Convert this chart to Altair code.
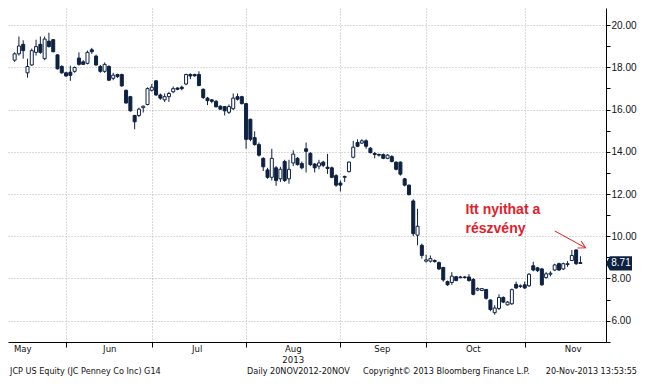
import altair as alt
import pandas as pd

# ---- data (JCP daily candles, 15 May - 20 Nov 2013) ----
opens = [18.34, 18.64, 19.09, 17.74, 18.11, 18.71, 19.09, 18.41, 19.24, 19.31,
         18.59, 18.04, 17.74, 17.77, 17.81, 18.44, 18.26, 18.19, 18.83, 18.53,
         18.04, 17.81, 18.04, 17.48, 17.66, 17.66, 16.91, 16.61, 15.72, 15.72,
         16.09, 16.24, 16.91, 17.36, 16.69, 16.46, 16.61, 16.84, 17.02, 17.06,
         17.21, 17.66, 17.66, 17.66, 16.96, 16.54, 16.46, 16.39, 16.16, 16.14,
         15.87, 16.04, 16.61, 16.61, 16.28, 15.54, 14.67, 14.34, 13.69, 13.14,
         12.79, 13.24, 12.72, 13.54, 12.72, 13.47, 13.69, 13.44, 14.14, 13.92,
         13.42, 13.32, 13.51, 13.27, 13.24, 12.87, 12.52, 12.79, 13.06, 13.74,
         14.44, 14.41, 14.52, 14.17, 13.92, 13.87, 13.87, 13.69, 13.77, 13.51,
         13.51, 12.72, 12.42, 11.67, 10.05, 9.57, 8.82, 8.82, 8.85, 8.75,
         8.52, 7.85, 7.81, 8.08, 8.04, 8.07, 8.07, 7.95, 7.45, 7.43,
         7.48, 6.98, 6.38, 6.58, 7.10, 6.75, 6.80, 7.72, 7.62, 7.70,
         7.65, 8.60, 8.50, 8.45, 8.04, 8.20, 8.40, 8.70, 8.45, 8.66,
         8.85, 9.35, 8.75]
highs = [18.71, 19.46, 19.28, 18.41, 18.89, 19.31, 19.46, 19.46, 19.64, 19.34,
         18.62, 18.10, 17.79, 18.08, 18.04, 18.71, 18.34, 18.79, 18.92, 18.60,
         18.11, 18.23, 18.10, 17.74, 17.70, 17.70, 16.95, 16.65, 15.75, 16.09,
         16.19, 17.05, 17.21, 17.40, 16.76, 16.76, 16.84, 17.09, 17.05, 17.13,
         17.70, 17.72, 17.70, 17.81, 17.00, 16.60, 16.50, 16.45, 16.20, 16.17,
         16.24, 16.76, 16.76, 16.65, 16.30, 15.57, 14.97, 14.44, 13.74, 13.24,
         14.14, 13.32, 13.29, 13.62, 13.62, 14.07, 13.75, 13.54, 14.44, 13.99,
         13.47, 13.62, 13.57, 13.90, 13.30, 12.94, 12.64, 12.87, 13.54, 14.52,
         14.59, 14.59, 14.59, 14.22, 13.99, 13.92, 13.92, 13.88, 13.84, 13.54,
         13.54, 12.76, 12.45, 11.75, 11.30, 9.65, 9.12, 9.09, 8.90, 8.80,
         8.55, 7.90, 8.30, 8.12, 8.12, 8.12, 8.20, 8.02, 7.58, 7.55,
         7.50, 7.00, 6.73, 7.25, 7.15, 6.93, 7.52, 7.85, 7.72, 7.85,
         8.25, 8.79, 8.55, 8.50, 8.30, 8.34, 8.70, 8.75, 8.75, 8.82,
         9.35, 9.37, 9.05]
lows = [18.26, 18.56, 18.41, 17.51, 18.07, 18.56, 18.64, 18.34, 18.94, 18.71,
        17.90, 17.70, 17.55, 17.36, 17.74, 18.08, 18.11, 18.14, 18.64, 18.08,
        17.74, 17.74, 17.36, 17.39, 17.50, 17.08, 16.28, 15.90, 15.07, 15.64,
        15.86, 16.20, 16.85, 16.65, 16.46, 16.36, 16.36, 16.78, 16.92, 16.91,
        17.15, 17.44, 17.55, 17.10, 16.50, 16.21, 16.30, 16.10, 15.98, 15.72,
        15.79, 15.98, 16.43, 16.24, 14.14, 14.50, 14.29, 13.77, 13.09, 12.72,
        12.64, 12.39, 12.57, 12.57, 12.49, 13.32, 13.35, 13.17, 13.02, 13.32,
        13.02, 13.17, 13.27, 12.95, 12.75, 12.34, 12.12, 12.57, 13.02, 13.69,
        14.22, 14.37, 14.14, 13.92, 13.69, 13.77, 13.65, 13.65, 13.50, 13.12,
        12.87, 12.36, 11.93, 10.00, 9.57, 8.94, 8.75, 8.75, 8.75, 8.40,
        7.85, 7.65, 7.70, 7.87, 8.00, 8.00, 7.85, 7.20, 7.40, 7.40,
        7.00, 6.45, 6.28, 6.50, 6.83, 6.72, 6.75, 7.50, 7.55, 7.50,
        7.60, 8.34, 8.30, 7.65, 8.00, 8.10, 8.35, 8.35, 8.40, 8.55,
        8.82, 8.64, 8.70]
closes = [18.64, 19.01, 18.79, 18.04, 18.79, 18.98, 18.71, 19.34, 18.98, 18.74,
          17.93, 17.74, 17.59, 17.62, 17.99, 18.14, 18.14, 18.71, 18.74, 18.11,
          17.81, 18.14, 17.39, 17.63, 17.56, 17.12, 16.31, 15.94, 15.42, 16.02,
          16.16, 16.99, 17.06, 16.69, 16.54, 16.61, 16.76, 16.99, 16.96, 16.99,
          17.66, 17.59, 17.60, 17.14, 16.57, 16.42, 16.39, 16.13, 16.02, 15.94,
          16.14, 16.54, 16.49, 16.28, 14.59, 14.59, 14.34, 13.84, 13.29, 12.79,
          13.69, 12.64, 13.17, 12.64, 13.17, 13.89, 13.39, 13.24, 14.02, 13.39,
          13.24, 13.47, 13.36, 13.21, 12.79, 12.42, 12.42, 12.83, 13.51, 14.22,
          14.26, 14.52, 14.26, 13.96, 13.87, 13.84, 13.69, 13.84, 13.54, 13.17,
          12.94, 12.42, 11.97, 10.12, 10.47, 9.09, 8.88, 8.94, 8.80, 8.45,
          7.93, 7.70, 8.11, 7.90, 8.07, 8.04, 7.90, 7.25, 7.52, 7.52,
          7.06, 6.53, 6.60, 7.10, 6.88, 6.88, 7.47, 7.55, 7.65, 7.55,
          8.20, 8.40, 8.37, 7.70, 8.22, 8.25, 8.64, 8.40, 8.70, 8.70,
          9.09, 8.70, 8.71]

# trading-day index of the first session of each month (Jun..Nov)
month_start_idx = [12, 32, 54, 76, 96, 119]
month_names = ["May", "Jun", "Jul", "Aug", "Sep", "Oct", "Nov"]
month_label_idx = [1.9, 22.2, 42.6, 65.0, 85.8, 107.0, 130.3]
y_ticks = list(range(5, 21))
last_price = 8.71

note_lines = ["Itt nyithat a", "részvény"]
note_idx = [105.2, 105.2]
note_price = [11.07, 10.17]
arrow_from = (126.0, 10.25)
arrow_to = (133.2, 9.45)

footer_texts = ["JCP US Equity (JC Penney Co Inc) G14", "Daily 20NOV2012-20NOV",
                "Copyright\u00a9 2013 Bloomberg Finance L.P.", "20-Nov-2013 13:53:55"]

# ---- build ----
NAVY = "#0d2141"
RED = "#e3202a"
W, H = 598, 334
NARROW = "Liberation Sans Narrow, DejaVu Sans Condensed, Liberation Sans, sans-serif"

df = pd.DataFrame({"i": list(range(len(opens))), "open": opens, "high": highs,
                   "low": lows, "close": closes})
df["up"] = df["close"] >= df["open"]

xscale = alt.Scale(domain=[-0.38, 136.8], nice=False, zero=False)
yscale = alt.Scale(domain=[4.99, 20.81], nice=False, zero=False)
xaxis = alt.Axis(values=month_start_idx, labels=False, ticks=True, tickSize=5,
                 tickColor="black", domainColor="black", grid=True,
                 gridDash=[1, 2], gridColor="#b5b5b5", title=None)
yaxis = alt.Axis(orient="right", values=y_ticks, title=None,
                 labelExpr="datum.value % 2 == 0 ? format(datum.value, '.2f') : ''",
                 tickSize=4, labelPadding=1, tickColor="black", domainColor="black",
                 labelFont="Liberation Sans", labelFontSize=10, labelColor="#111",
                 grid=True, gridDash=[1, 2], gridColor="#b5b5b5",
                 gridOpacity={"condition": {"test": "datum.value % 2 != 0", "value": 0}, "value": 1})

X = lambda f: alt.X(f, type="quantitative", scale=xscale, axis=xaxis)
Y = lambda f: alt.Y(f, type="quantitative", scale=yscale, axis=yaxis)

wicks = alt.Chart(df).mark_rule(color=NAVY, strokeWidth=1).encode(
    x=X("i"), y=Y("low"), y2="high")
bodies = alt.Chart(df).mark_bar(size=3, stroke=NAVY, strokeWidth=1).encode(
    x=X("i"), y=Y("open"), y2="close",
    fill=alt.condition(alt.datum.up, alt.value("white"), alt.value(NAVY)))

mdf = pd.DataFrame({"m": month_names, "i": month_label_idx})
months = alt.Chart(mdf).mark_text(font=NARROW, fontSize=9.5, color="#111",
                                  baseline="top", align="center").encode(
    x=X("i"), y=alt.value(H + 2), text="m:N")
year = alt.Chart(pd.DataFrame({"t": ["2013"], "i": [month_label_idx[3]]})).mark_text(
    font=NARROW, fontSize=9.5, color="#111", baseline="top", align="center").encode(
    x=X("i"), y=alt.value(H + 13), text="t:N")

footer_x = [2, 239, 355, 629]
footer_align = ["left", "left", "left", "right"]
footers = [
    alt.Chart(pd.DataFrame({"t": [t]})).mark_text(
        font=NARROW, fontSize=9, color="#111", baseline="top", align=a).encode(
        x=alt.value(fx), y=alt.value(H + 25), text="t:N")
    for t, fx, a in zip(footer_texts, footer_x, footer_align)
]

ndf = pd.DataFrame({"t": note_lines, "i": note_idx, "p": note_price})
note = alt.Chart(ndf).mark_text(font="Liberation Sans", fontSize=14, fontWeight="bold",
                                color=RED, align="left", baseline="alphabetic").encode(
    x=X("i"), y=Y("p"), text="t:N")

adf = pd.DataFrame({"i": [arrow_from[0]], "p": [arrow_from[1]],
                    "i2": [arrow_to[0]], "p2": [arrow_to[1]]})
arrow = alt.Chart(adf).mark_rule(color=RED, strokeWidth=1).encode(
    x=X("i"), y=Y("p"), x2="i2", y2="p2")
head = alt.Chart(adf).mark_point(shape="M -1 -0.55 L 0 0 L -1 0.55", size=200,
                                 filled=False, color=RED, strokeWidth=1, angle=28,
                                 opacity=1).encode(x=X("i2"), y=Y("p2"))

tdf = pd.DataFrame({"p": [last_price], "t": [f"{last_price:.2f}"]})
tag = alt.Chart(tdf).mark_point(
    shape="M -1 0 L -0.7 -0.55 L 1 -0.55 L 1 0.55 L -0.7 0.55 Z", size=676,
    filled=True, color=NAVY, opacity=1).encode(x=alt.value(W + 13), y=Y("p"))
tagtxt = alt.Chart(tdf).mark_text(font="Liberation Sans", fontSize=10, color="white",
                                  align="center", baseline="middle").encode(
    x=alt.value(W + 15), y=Y("p"), text="t:N")

chart = alt.layer(wicks, bodies, months, year, *footers, note, arrow, head, tag, tagtxt).properties(
    width=W, height=H, padding=0, background="white"
).configure_view(strokeWidth=0).configure_axis(domainWidth=1)

chart.save("out.html", embed_options={"renderer": "svg", "actions": False})
